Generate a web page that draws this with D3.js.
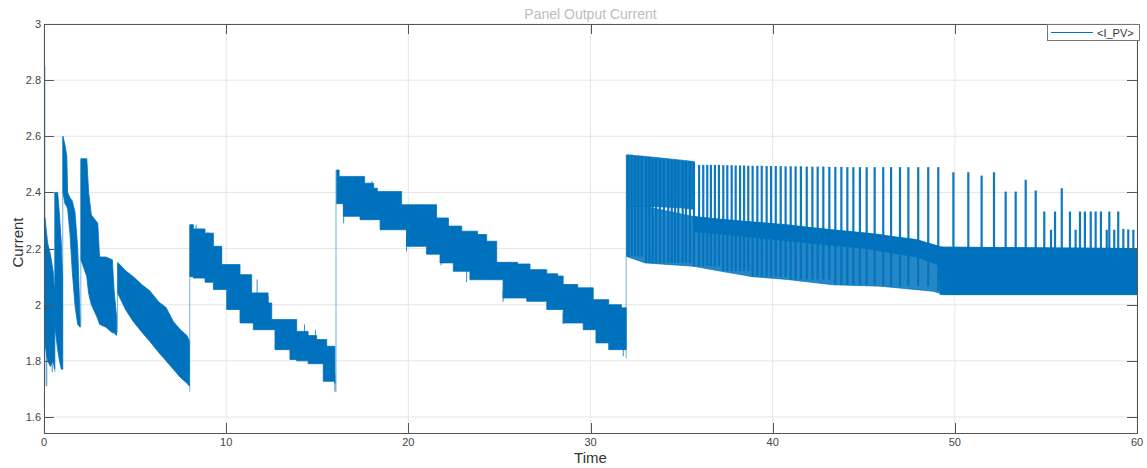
<!DOCTYPE html>
<html>
<head>
<meta charset="utf-8">
<script src="https://cdn.jsdelivr.net/npm/d3@7"></script>
<style>
  body { margin: 0; background: #fff; }
  svg { display: block; font-family: "Liberation Sans", Arial, sans-serif; }
</style>
</head>
<body>
<div id="container"></div>
<script>
// ---- data ----
var xTicks = [0, 10, 20, 30, 40, 50, 60];
var yTicks = [1.6, 1.8, 2, 2.2, 2.4, 2.6, 2.8, 3];

// dense bands of the signal: [time, upper, lower]
var bandA = [[0.05, 2.31, 1.86], [0.2, 2.22, 1.80], [0.35, 2.18, 1.78], [0.5, 2.12, 1.80], [0.58, 2.05, 1.77]];
var bandB = [[0.6, 2.40, 1.92], [0.75, 2.40, 1.84], [0.85, 2.32, 1.80], [0.95, 2.22, 1.77], [1.02, 2.10, 1.77]];
var bandC = [[1.04, 2.60, 2.40], [1.15, 2.57, 2.36], [1.25, 2.53, 2.35], [1.3, 2.40, 2.34], [1.43, 2.38, 2.25],
  [1.55, 2.37, 2.12], [1.7, 2.33, 2.0], [1.76, 2.28, 1.97], [1.85, 2.2, 1.93], [1.98, 1.95, 1.92]];
var bandD = [[2.03, 2.52, 2.16], [2.35, 2.52, 2.10], [2.45, 2.40, 2.04], [2.6, 2.32, 2.0], [2.95, 2.29, 1.95],
  [3.05, 2.17, 1.93], [3.4, 2.17, 1.92], [3.75, 2.16, 1.90], [3.85, 2.05, 1.90], [3.98, 1.96, 1.89]];
var bandE = [[4.05, 2.15, 2.04], [4.5, 2.12, 1.98], [4.9, 2.10, 1.94], [5.4, 2.07, 1.90], [5.8, 2.05, 1.87],
  [6.3, 2.01, 1.83], [6.7, 1.99, 1.80], [7.1, 1.94, 1.77], [7.5, 1.91, 1.74], [7.85, 1.89, 1.72], [7.98, 1.87, 1.71]];
var bandF = [[8.01, 2.285, 2.10], [8.2, 2.27, 2.095], [8.84, 2.255, 2.08], [9.3, 2.208, 2.054], [9.75, 2.143, 2.054],
  [10.03, 2.143, 1.983], [10.76, 2.107, 1.935], [11.4, 2.042, 1.935], [11.49, 2.042, 1.911], [12.3, 2.006, 1.911],
  [12.5, 1.947, 1.911], [12.68, 1.947, 1.84], [13.5, 1.947, 1.805], [13.87, 1.905, 1.80], [14.5, 1.89, 1.79],
  [14.97, 1.876, 1.79], [15.33, 1.876, 1.727], [15.52, 1.852, 1.727], [15.97, 1.85, 1.72]];
var bandG = [[16.07, 2.48, 2.36], [16.2, 2.457, 2.36], [16.43, 2.457, 2.315], [17.35, 2.457, 2.303], [17.6, 2.433, 2.303],
  [18.1, 2.415, 2.303], [18.3, 2.403, 2.303], [18.45, 2.403, 2.267], [19.63, 2.356, 2.267], [19.9, 2.356, 2.208],
  [21.0, 2.356, 2.18], [21.55, 2.309, 2.18], [21.74, 2.309, 2.149], [22.2, 2.28, 2.149], [22.47, 2.28, 2.119],
  [22.93, 2.262, 2.119], [23.38, 2.262, 2.089], [23.8, 2.25, 2.089], [24.3, 2.226, 2.089], [24.85, 2.151, 2.089],
  [25.2, 2.151, 2.024], [26.0, 2.145, 2.024], [26.5, 2.145, 2.012], [26.68, 2.125, 2.012], [27.6, 2.11, 1.983],
  [28.2, 2.102, 1.983], [28.5, 2.072, 1.935], [29.3, 2.06, 1.935], [29.6, 2.06, 1.911], [30.15, 2.018, 1.911],
  [30.3, 2.018, 1.864], [31.0, 2.0, 1.84], [31.7, 1.989, 1.84], [31.96, 1.989, 1.84]];
// after t=32: high plateau, mid band, and the striped lower region
var bandHigh = [[31.98, 2.534, 2.35], [33.5, 2.525, 2.35], [35.0, 2.515, 2.345], [35.65, 2.51, 2.34]];
var bandMid = [[35.65, 2.314, 2.26], [37.5, 2.30, 2.25], [39.67, 2.29, 2.235], [42.0, 2.275, 2.22],
  [45.16, 2.255, 2.20], [47.9, 2.232, 2.17], [49.15, 2.208, 2.14], [49.2, 2.205, 2.036], [60, 2.20, 2.036]];
var bandLow = [[31.98, 2.35, 2.172], [33.0, 2.35, 2.149], [35.65, 2.314, 2.137], [37.1, 2.305, 2.12],
  [38.9, 2.295, 2.10], [40.8, 2.285, 2.09], [43.3, 2.265, 2.071], [45.9, 2.25, 2.066], [48.8, 2.21, 2.048],
  [49.4, 2.205, 2.036], [60, 2.20, 2.036]];

// thin vertical transitions: [time, low, high]
var jumps = [[0.05, 1.71, 2.85], [0.6, 1.76, 2.40], [1.03, 1.77, 2.60], [2.02, 1.92, 2.52], [4.03, 1.90, 2.15],
  [8.0, 1.69, 2.285], [16.03, 1.69, 2.48], [31.96, 1.81, 2.534]];
// short hair spikes along the bands: [time, low, high]
var hairs = [[0.15, 1.71, 2.0], [0.45, 1.76, 1.9], [8.35, 2.2, 2.285], [9.0, 2.2, 2.26], [9.75, 2.1, 2.20],
  [11.7, 2.0, 2.09], [12.3, 1.95, 2.03], [14.3, 1.85, 1.93], [14.9, 1.85, 1.91], [15.97, 1.69, 1.75],
  [16.45, 2.29, 2.40], [18.0, 2.35, 2.44], [19.9, 2.19, 2.25], [21.8, 2.14, 2.2], [23.2, 2.08, 2.14],
  [25.2, 2.01, 2.05], [28.5, 1.93, 1.97], [31.8, 1.816, 1.86]];
// spikes of the last part: [time, top]
var spikes = [[32.07, 2.534], [32.26, 2.534], [32.44, 2.53], [32.62, 2.53], [32.81, 2.53], [33.05, 2.525],
  [33.23, 2.525], [33.41, 2.52], [33.60, 2.52], [33.81, 2.52], [34.03, 2.518], [34.27, 2.518], [34.46, 2.516],
  [34.64, 2.516], [34.82, 2.512], [35.06, 2.512], [35.24, 2.51], [35.46, 2.51], [35.68, 2.51], [35.96, 2.498],
  [36.19, 2.498], [36.41, 2.498], [36.61, 2.498], [36.83, 2.498], [37.05, 2.498], [37.29, 2.497], [37.51, 2.497],
  [37.75, 2.497], [37.97, 2.496], [38.21, 2.496], [38.43, 2.496], [38.66, 2.495], [38.90, 2.495], [39.16, 2.495],
  [39.40, 2.495], [39.67, 2.494], [39.91, 2.494], [40.17, 2.494], [40.44, 2.494], [40.71, 2.493], [40.99, 2.493],
  [41.26, 2.493], [41.55, 2.493], [41.87, 2.492], [42.18, 2.492], [42.47, 2.492], [42.78, 2.492], [43.11, 2.491],
  [43.44, 2.491], [43.77, 2.491], [44.10, 2.49], [44.43, 2.49], [44.79, 2.49], [45.16, 2.49], [45.6, 2.49],
  [46.07, 2.49], [46.50, 2.49], [46.99, 2.49], [47.45, 2.49], [47.99, 2.49], [48.54, 2.49], [49.09, 2.49],
  [49.92, 2.472], [50.74, 2.472], [51.47, 2.46], [52.15, 2.472], [52.79, 2.403], [53.34, 2.403], [53.89, 2.445],
  [54.44, 2.407], [54.91, 2.332], [55.28, 2.267], [55.50, 2.332], [55.87, 2.415], [56.32, 2.332], [56.63, 2.267],
  [56.87, 2.332], [57.14, 2.332], [57.46, 2.332], [57.73, 2.332], [58.02, 2.332], [58.34, 2.267], [58.48, 2.332],
  [58.75, 2.267], [58.97, 2.332], [59.25, 2.27], [59.52, 2.268], [59.80, 2.267]];

(function(){
var W = 1147, H = 468,
  _m = {left: 44, top: 24, right: 10, bottom: 35},
  _w = W - _m.left - _m.right,
  _h = H - _m.top - _m.bottom,
  BLUE = '#0072BD',
  _svg, _plot, _x, _y,

  drawBand = function(data, curve, opacity){
    var area = d3.area()
      .x(function(d){ return _x(d[0]); })
      .y0(function(d){ return _y(d[2]); })
      .y1(function(d){ return _y(d[1]); })
      .curve(curve);
    _plot.append('path').datum(data)
      .attr('d', area)
      .attr('fill', BLUE)
      .attr('fill-opacity', opacity)
      .attr('stroke', BLUE)
      .attr('stroke-opacity', opacity)
      .attr('stroke-width', 0.8);
  },
  drawSticks = function(data, width, opacity){
    _plot.append('g').selectAll('line').data(data).enter().append('line')
      .attr('x1', function(d){ return _x(d[0]); })
      .attr('x2', function(d){ return _x(d[0]); })
      .attr('y1', function(d){ return _y(d[1]); })
      .attr('y2', function(d){ return _y(d[2]); })
      .attr('stroke', BLUE)
      .attr('stroke-opacity', opacity)
      .attr('stroke-width', width);
  },
  // bottom of the striped region under a spike
  lowAt = function(t){
    var i = d3.bisector(function(d){ return d[0]; }).right(bandLow, t) - 1;
    return bandLow[Math.max(0, i)][2];
  },
  drawAxes = function(){
    var g = _svg.append('g').attr('class', 'axes');
    // box
    g.append('rect')
      .attr('x', _m.left + 0.5).attr('y', _m.top + 0.5)
      .attr('width', _w).attr('height', _h)
      .attr('fill', 'none').attr('stroke', '#555').attr('stroke-width', 1);
    var tk = 10;
    xTicks.forEach(function(t){
      var x = Math.round(_x(t)) + 0.5;
      g.append('line').attr('x1', x).attr('x2', x)
        .attr('y1', _m.top + _h).attr('y2', _m.top + _h - tk).attr('stroke', '#555');
      g.append('line').attr('x1', x).attr('x2', x)
        .attr('y1', _m.top).attr('y2', _m.top + tk).attr('stroke', '#555');
      g.append('text').attr('x', _x(t)).attr('y', _m.top + _h + 13)
        .attr('text-anchor', 'middle').attr('font-size', 11).attr('fill', '#444').text(t);
    });
    yTicks.forEach(function(v){
      var y = Math.round(_y(v)) + 0.5;
      g.append('line').attr('x1', _m.left).attr('x2', _m.left + tk)
        .attr('y1', y).attr('y2', y).attr('stroke', '#555');
      g.append('line').attr('x1', _m.left + _w).attr('x2', _m.left + _w - tk)
        .attr('y1', y).attr('y2', y).attr('stroke', '#555');
      g.append('text').attr('x', _m.left - 3).attr('y', _y(v) + 4)
        .attr('text-anchor', 'end').attr('font-size', 11).attr('fill', '#444').text(v);
    });
  },
  drawLabels = function(){
    _svg.append('text').attr('x', _m.left + _w / 2).attr('y', 19)
      .attr('text-anchor', 'middle').attr('font-size', 14).attr('fill', '#bdbdbd')
      .text('Panel Output Current');
    _svg.append('text').attr('x', _m.left + _w / 2).attr('y', 463)
      .attr('text-anchor', 'middle').attr('font-size', 15).attr('fill', '#333')
      .text('Time');
    _svg.append('text')
      .attr('transform', 'translate(23,' + (_m.top + _h / 2 + 14) + ') rotate(-90)')
      .attr('text-anchor', 'middle').attr('font-size', 15).attr('fill', '#333')
      .text('Current');
  },
  drawLegend = function(){
    var g = _svg.append('g').attr('transform', 'translate(1047,24)');
    g.append('rect').attr('x', 0.5).attr('y', 0.5).attr('width', 92).attr('height', 16)
      .attr('fill', '#fff').attr('stroke', '#777').attr('stroke-width', 1);
    g.append('line').attr('x1', 4).attr('x2', 46).attr('y1', 8.5).attr('y2', 8.5)
      .attr('stroke', BLUE).attr('stroke-width', 1.2);
    g.append('text').attr('x', 50).attr('y', 12.5).attr('font-size', 11).attr('fill', '#333')
      .text('<I_PV>');
  },
  setup = function(){
    _svg = d3.select('#container').append('svg').attr('width', W).attr('height', H);
    _x = d3.scaleLinear().domain([0, 60]).range([_m.left, _m.left + _w]);
    _y = d3.scaleLinear().domain([1.543, 3]).range([_m.top + _h, _m.top]);

    // grid
    var grid = _svg.append('g').attr('class', 'grid');
    xTicks.forEach(function(t){
      grid.append('line').attr('x1', _x(t)).attr('x2', _x(t))
        .attr('y1', _m.top).attr('y2', _m.top + _h).attr('stroke', '#e6e6e6');
    });
    yTicks.forEach(function(v){
      grid.append('line').attr('x1', _m.left).attr('x2', _m.left + _w)
        .attr('y1', _y(v)).attr('y2', _y(v)).attr('stroke', '#e6e6e6');
    });

    _svg.append('clipPath').attr('id', 'clip').append('rect')
      .attr('x', _m.left).attr('y', _m.top).attr('width', _w).attr('height', _h);
    _plot = _svg.append('g').attr('clip-path', 'url(#clip)');

    drawSticks(jumps, 1, 0.55);
    [bandA, bandB, bandC, bandD, bandE].forEach(function(b){ drawBand(b, d3.curveLinear, 1); });
    drawBand(bandF, d3.curveStepAfter, 1);
    drawBand(bandG, d3.curveStepAfter, 1);
    drawSticks(hairs, 1, 0.8);

    drawBand(bandLow, d3.curveLinear, 0.85);
    drawBand(bandHigh, d3.curveLinear, 0.9);
    drawBand(bandMid, d3.curveLinear, 1);
    drawSticks(spikes.map(function(d){ return [d[0], lowAt(d[0]), d[1]]; }), 2.2, 0.95);

    drawAxes();
    drawLabels();
    drawLegend();
  };
setup();
})();
</script>
</body>
</html>
